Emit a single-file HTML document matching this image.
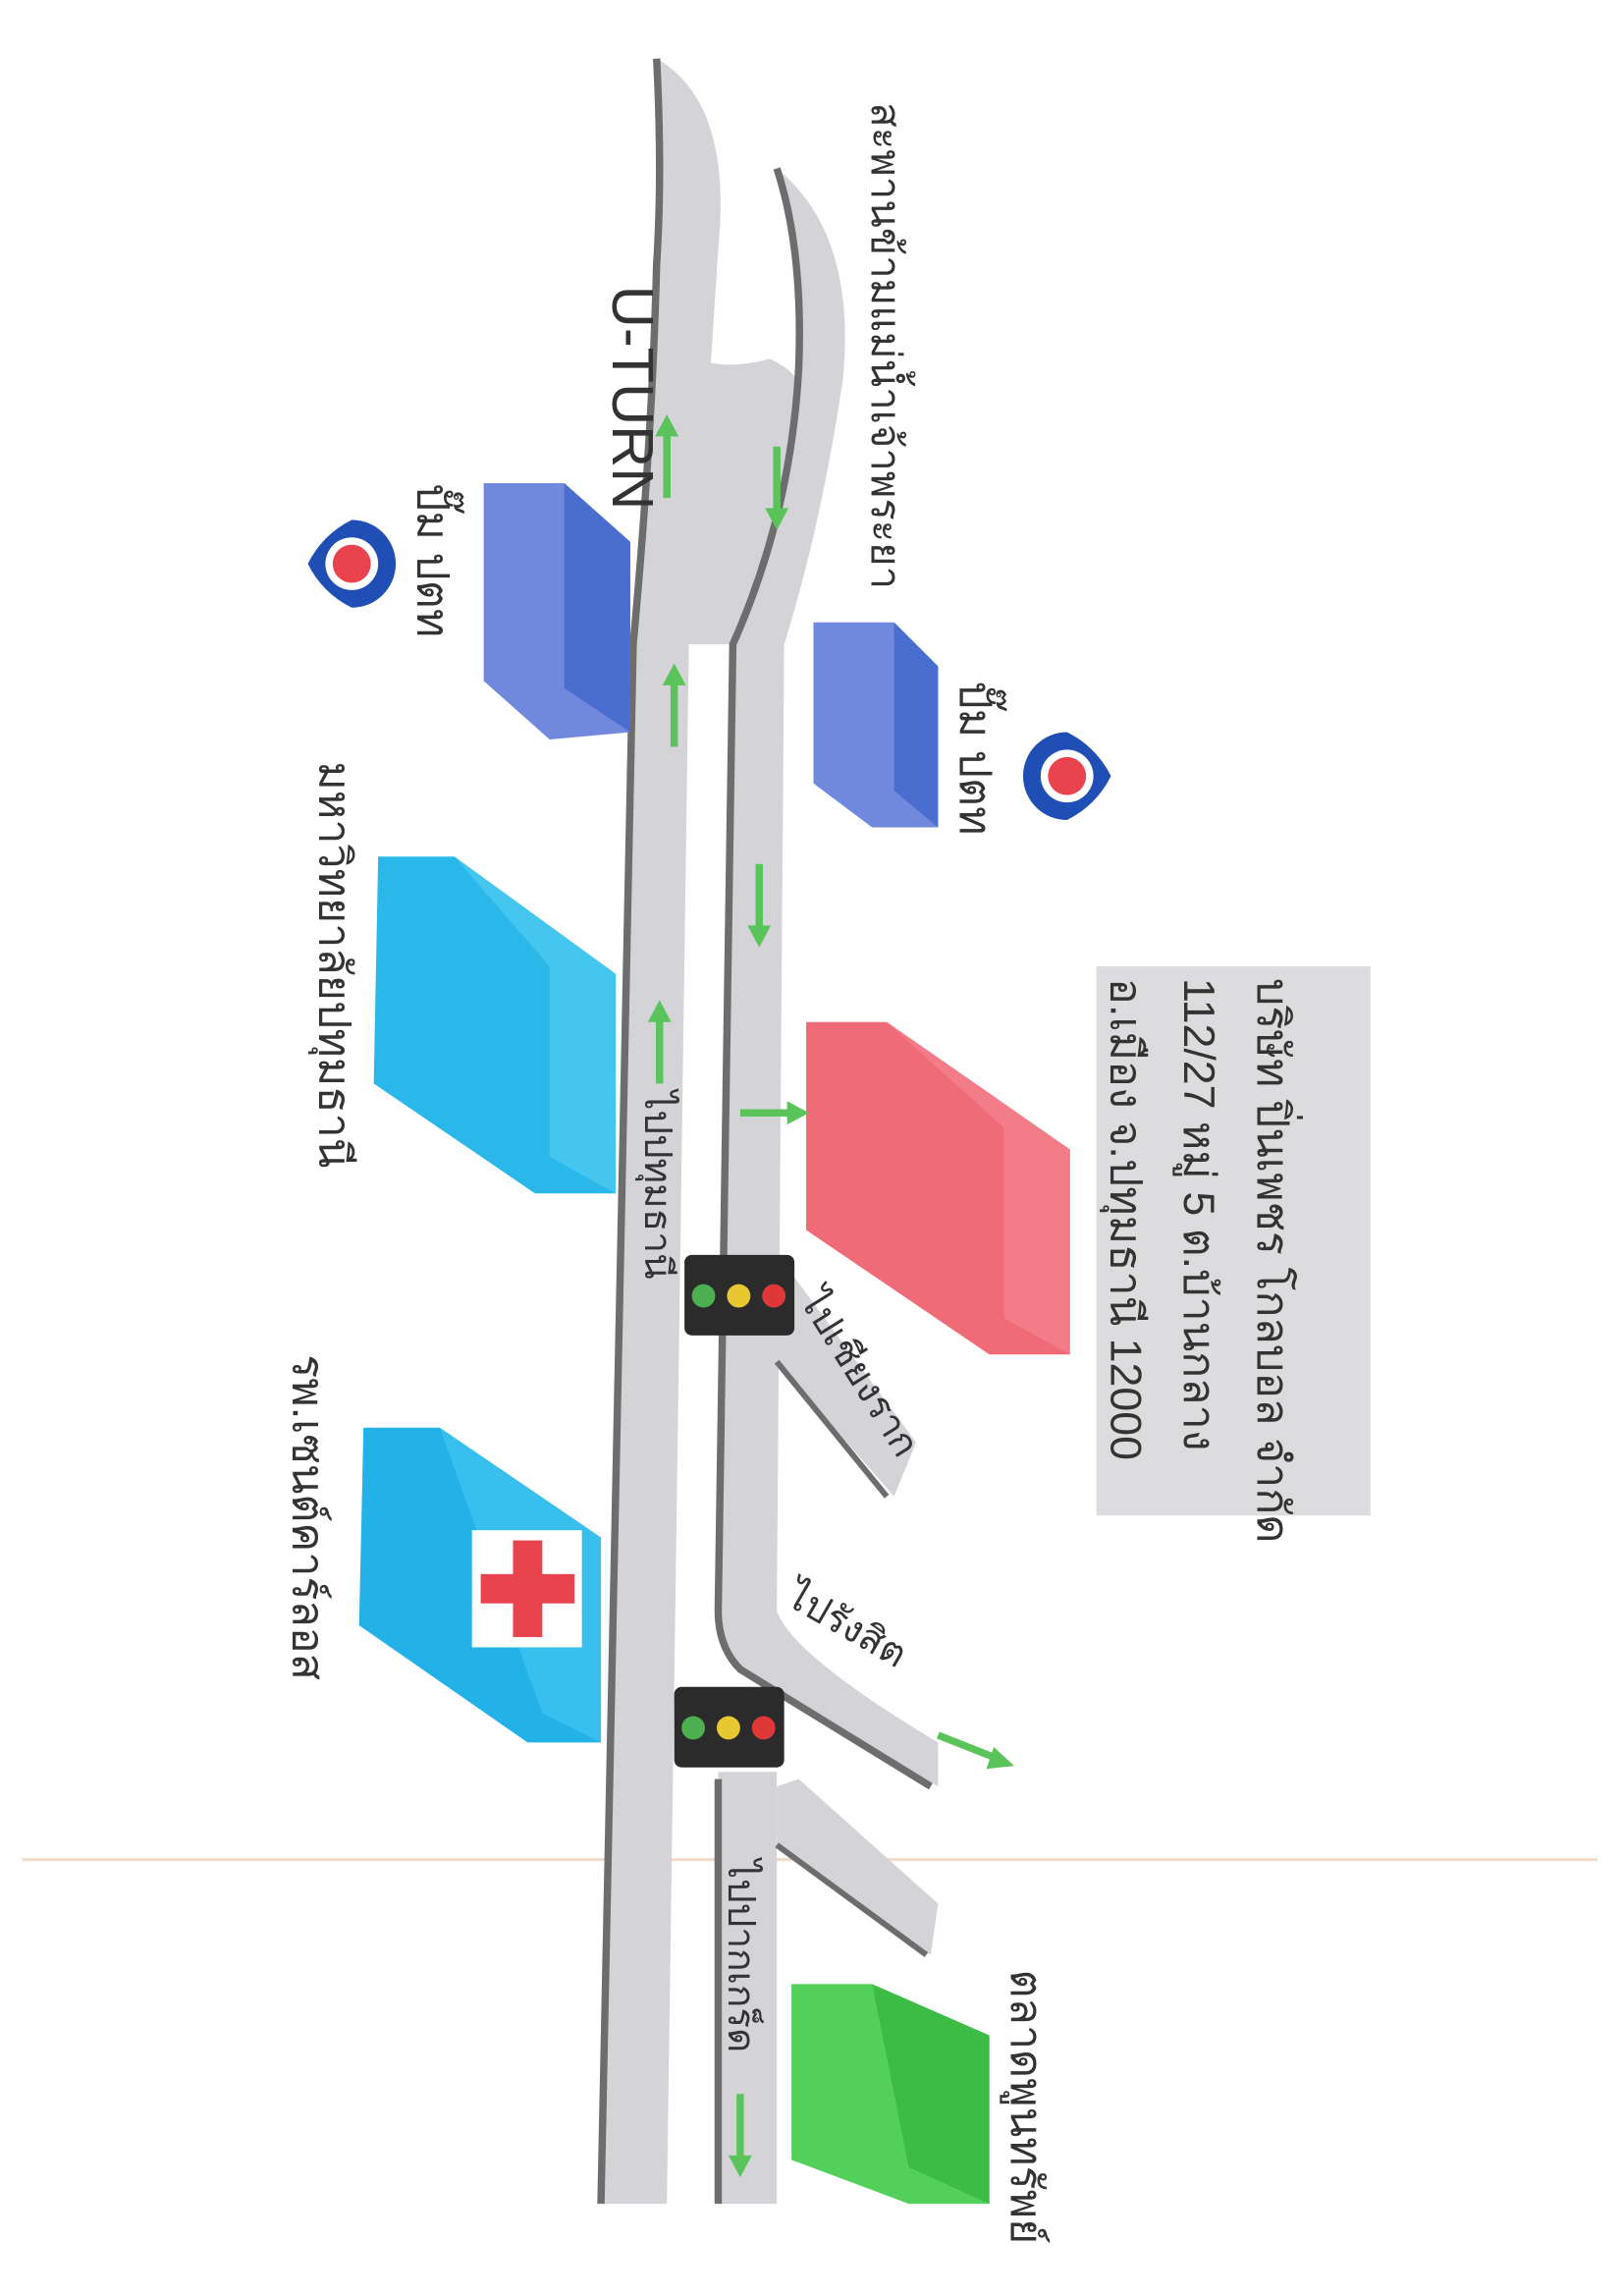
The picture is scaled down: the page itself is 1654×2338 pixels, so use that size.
<!DOCTYPE html>
<html><head><meta charset="utf-8"><style>html,body{margin:0;padding:0;background:#fff}svg{display:block}</style></head>
<body>
<svg width="1654" height="2338" viewBox="0 0 1108 1568" preserveAspectRatio="none" xmlns="http://www.w3.org/2000/svg" font-family="Liberation Sans, Noto Sans CJK SC, sans-serif">
<rect width="1108" height="1568" fill="#fff"/>
<line x1="15" y1="1270" x2="1090" y2="1270" stroke="#f3d9c8" stroke-width="2"/>
<path d="M465 240 Q490 255 525 245 Q560 260 545 300 L525 400 L505 440 L470 440 L455 330 Z" fill="#d4d3d8"/>
<path d="M448 40 Q500 70 490 170 Q480 330 470 440 L455 1505 L410 1505 L430 440 Q445 300 448 180 Q450 100 448 40 Z" fill="#d4d3d8"/>
<path d="M448 40 Q452 120 448 180 Q445 300 432 440 L410 1505" fill="none" stroke="#6d6d6d" stroke-width="5"/>
<path d="M530 115 Q585 160 575 260 Q560 360 535 440 L530 1100 Q540 1130 640 1190 L640 1220 Q540 1160 505 1140 Q490 1125 490 1100 L500 440 Q540 350 545 250 Q548 170 530 115 Z" fill="#d4d3d8"/>
<path d="M530 115 Q548 170 545 250 Q540 350 500 440 L490 1100 Q490 1125 505 1140 L635 1220" fill="none" stroke="#6d6d6d" stroke-width="5"/>
<path d="M533 860 L625 985 L610 1022 L530 930 Z" fill="#d4d3d8"/>
<path d="M530 930 L605 1022" stroke="#6d6d6d" stroke-width="4"/>
<path d="M490 1210 L530 1210 L530 1505 L490 1505 Z" fill="#d4d3d8"/>
<path d="M490 1215 L490 1505" stroke="#6d6d6d" stroke-width="5"/>
<path d="M530 1220 L545 1215 L640 1300 L635 1335 L530 1260 Z" fill="#d4d3d8"/>
<path d="M530 1260 L632 1335" stroke="#6d6d6d" stroke-width="4"/>
<polygon points="330,330 385,330 430,370 430,500 375,505 330,465" fill="#7089dd"/>
<polygon points="385,330 430,370 430,500 385,470" fill="#4a6dd0"/>
<polygon points="555,425 610,425 640,455 640,565 595,565 555,535" fill="#7089dd"/>
<polygon points="610,425 640,455 640,565 610,540" fill="#4a6dd0"/>
<polygon points="258,585 310,585 420,665 420,815 365,815 255,740" fill="#2ab8ea"/>
<polygon points="310,585 420,665 420,815 375,790 375,660" fill="#45c6ef"/>
<polygon points="550,698 605,698 730,785 730,925 675,925 550,840" fill="#f06b78"/>
<polygon points="605,698 730,785 730,925 685,900 685,770" fill="#f27d89"/>
<polygon points="248,975 300,975 410,1050 410,1190 360,1190 245,1110" fill="#22b2e8"/>
<polygon points="300,975 410,1050 410,1190 370,1170" fill="#38bfed"/>
<rect x="322" y="1045" width="75" height="80" fill="#fff"/>
<rect x="350" y="1052" width="20" height="66" fill="#e8434e"/>
<rect x="328" y="1075" width="64" height="20" fill="#e8434e"/>
<polygon points="540,1355 595,1355 675,1390 675,1505 620,1505 540,1475" fill="#52d05a"/>
<polygon points="595,1355 675,1390 675,1505 620,1480" fill="#3cbc45"/>
<rect x="748" y="660" width="187" height="375" fill="#dcdcde"/>
<g transform="translate(240,385)"><path d="M-30 0 A30 30 0 1 1 30 0 Q20 20 0 30 Q-20 20 -30 0Z" transform="rotate(90)" fill="#1f4fb5"/><circle r="18" fill="#fff"/><circle r="13" fill="#e8434e"/></g>
<g transform="translate(728,530)"><path d="M-30 0 A30 30 0 1 1 30 0 Q20 20 0 30 Q-20 20 -30 0Z" transform="rotate(-90)" fill="#1f4fb5"/><circle r="18" fill="#fff"/><circle r="13" fill="#e8434e"/></g>
<g transform="translate(467,857)"><rect width="75" height="55" rx="5" fill="#2b2b2b"/><circle cx="13" cy="28" r="8" fill="#4caf50"/><circle cx="37" cy="28" r="8" fill="#e8c830"/><circle cx="61" cy="28" r="8" fill="#e03838"/></g>
<g transform="translate(460,1152)"><rect width="75" height="55" rx="5" fill="#2b2b2b"/><circle cx="13" cy="28" r="8" fill="#4caf50"/><circle cx="37" cy="28" r="8" fill="#e8c830"/><circle cx="61" cy="28" r="8" fill="#e03838"/></g>
<g stroke="#5ac45a" stroke-width="5" fill="#5ac45a">
<line x1="455" y1="340" x2="455" y2="295"/><polygon points="447,298 463,298 455,283" stroke="none"/>
<line x1="460" y1="510" x2="460" y2="465"/><polygon points="452,468 468,468 460,453" stroke="none"/>
<line x1="450" y1="740" x2="450" y2="695"/><polygon points="442,698 458,698 450,683" stroke="none"/>
<line x1="530" y1="305" x2="530" y2="350"/><polygon points="522,347 538,347 530,362" stroke="none"/>
<line x1="518" y1="590" x2="518" y2="635"/><polygon points="510,632 526,632 518,647" stroke="none"/>
<line x1="505" y1="760" x2="540" y2="760"/><polygon points="537,752 537,768 552,760" stroke="none"/>
<line x1="640" y1="1185" x2="683" y2="1202"/><polygon points="678,1193 673,1208 692,1206" stroke="none"/>
<line x1="505" y1="1430" x2="505" y2="1475"/><polygon points="497,1472 513,1472 505,1487" stroke="none"/>
</g>
<g fill="#333" font-family="Liberation Sans, Noto Sans CJK SC, sans-serif">
<text transform="translate(418,195) rotate(90)" font-size="40">U-TURN</text>
<text transform="translate(595,70) rotate(90)" font-size="28">สะพานข้ามแม่น้ำเจ้าพระยา</text>
<text transform="translate(285,330) rotate(90)" font-size="30">ปั๊ม ปตท</text>
<text transform="translate(655,465) rotate(90)" font-size="30">ปั๊ม ปตท</text>
<text transform="translate(218,520) rotate(90)" font-size="30">มหาวิทยาลัยปทุมธานี</text>
<text transform="translate(440,745) rotate(90)" font-size="26">ไปปทุมธานี</text>
<text transform="translate(545,888) rotate(58)" font-size="26">ไปเชียงราก</text>
<text transform="translate(535,1095) rotate(30)" font-size="26">ไปรังสิต</text>
<text transform="translate(497,1270) rotate(90)" font-size="26">ไปปากเกร็ด</text>
<text transform="translate(200,925) rotate(90)" font-size="30">รพ.เซนต์คาร์ลอส</text>
<text transform="translate(690,1345) rotate(90)" font-size="30">ตลาดพูนทรัพย์</text>
<text transform="translate(858,668) rotate(90)" font-size="30">บริษัท ปิ่นเพชร โกลบอล จำกัด</text>
<text transform="translate(808,668) rotate(90)" font-size="30">112/27 หมู่ 5 ต.บ้านกลาง</text>
<text transform="translate(758,668) rotate(90)" font-size="30">อ.เมือง จ.ปทุมธานี 12000</text>
</g>
</svg>
</body></html>
